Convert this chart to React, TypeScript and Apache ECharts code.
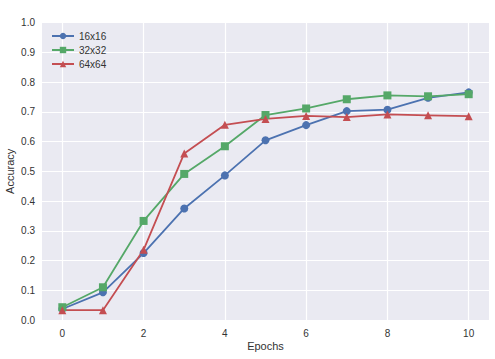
import React, { useEffect, useRef } from "react";
import * as echarts from "echarts";

const epochs = [0, 1, 2, 3, 4, 5, 6, 7, 8, 9, 10];
const acc16 = [0.037, 0.093, 0.225, 0.375, 0.486, 0.604, 0.655, 0.702, 0.707, 0.747, 0.765];
const acc32 = [0.043, 0.110, 0.333, 0.491, 0.584, 0.689, 0.711, 0.742, 0.755, 0.752, 0.759];
const acc64 = [0.033, 0.033, 0.236, 0.560, 0.656, 0.676, 0.686, 0.682, 0.691, 0.688, 0.685];
const xTicks = [0, 2, 4, 6, 8, 10];
const seriesNames = ["16x16", "32x32", "64x64"];

const FONT = "Liberation Sans, Arial, sans-serif";
const TXT = "#333333";

export default function App() {
  const ref = useRef<HTMLDivElement>(null);
  useEffect(() => {
    if (!ref.current) return;
    const chart = echarts.init(ref.current, null, { renderer: "svg" });
    const mk = (vals: number[]) => epochs.map((e, i) => [e, vals[i]]);
    const common = {
      type: "line",
      lineStyle: { width: 1.8 },
      symbolSize: 8,
      z: 3,
    };
    chart.setOption({
      animation: false,
      textStyle: { fontFamily: FONT },
      grid: {
        left: 42,
        right: 6,
        top: 22.5,
        bottom: 39,
        show: true,
        backgroundColor: "#EAEAF2",
        borderWidth: 0,
        containLabel: false,
        outerBoundsMode: "none",
      },
      legend: {
        orient: "vertical",
        left: 46,
        top: 26,
        itemWidth: 22,
        itemHeight: 8,
        itemGap: 4,
        textStyle: { fontSize: 10, color: TXT, fontFamily: FONT },
        data: seriesNames,
      },
      xAxis: {
        type: "value",
        min: -0.5,
        max: 10.5,
        name: "Epochs",
        nameLocation: "middle",
        nameGap: 20,
        nameMoveOverlap: false,
        nameTextStyle: { fontSize: 11, color: TXT, fontFamily: FONT },
        axisLine: { show: false },
        axisTick: { show: false, customValues: xTicks },
        axisLabel: {
          customValues: xTicks,
          fontSize: 10,
          color: TXT,
          margin: 8,
          fontFamily: FONT,
        },
        splitLine: { show: false },
      },
      yAxis: {
        type: "value",
        min: 0,
        max: 1,
        interval: 0.1,
        name: "Accuracy",
        nameLocation: "middle",
        nameGap: 27,
        nameMoveOverlap: false,
        nameTextStyle: { fontSize: 11, color: TXT, fontFamily: FONT },
        axisLine: { show: false },
        axisTick: { show: false },
        axisLabel: {
          fontSize: 10,
          color: TXT,
          margin: 7,
          fontFamily: FONT,
          formatter: (v: number) => v.toFixed(1),
        },
        splitLine: { show: true, lineStyle: { color: "#ffffff", width: 1.2 } },
      },
      series: [
        {
          type: "line",
          name: "vgrid",
          data: [],
          z: 1,
          silent: true,
          markLine: {
            z: 1,
            silent: true,
            symbol: "none",
            label: { show: false },
            lineStyle: { color: "#ffffff", width: 1.2, type: "solid" },
            emphasis: { disabled: true },
            data: xTicks.map((t) => ({ xAxis: t })),
          },
        },
        {
          ...common,
          name: seriesNames[0],
          data: mk(acc16),
          symbol: "circle",
          color: "#4C72B0",
        },
        {
          ...common,
          name: seriesNames[1],
          data: mk(acc32),
          symbol: "rect",
          symbolSize: 8,
          color: "#55A868",
        },
        {
          ...common,
          name: seriesNames[2],
          data: mk(acc64),
          symbol: "triangle",
          symbolSize: 8,
          color: "#C44E52",
        },
      ],
    });
    return () => chart.dispose();
  }, []);
  return <div ref={ref} style={{ width: 495, height: 359, position: "absolute", left: 0, top: 0 }} />;
}
